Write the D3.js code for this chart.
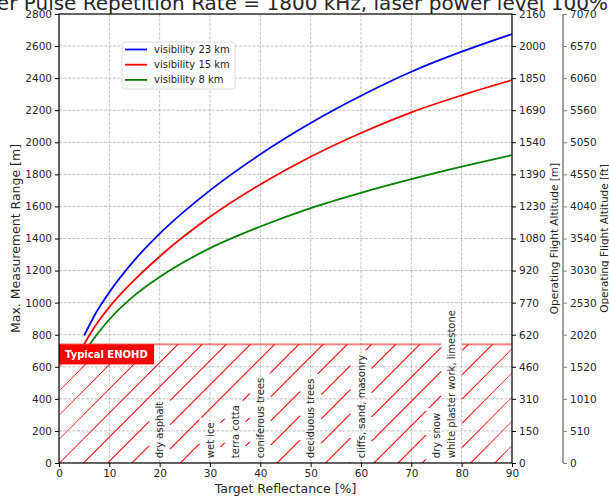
<!DOCTYPE html>
<html>
<head>
<meta charset="utf-8">
<script src="https://cdn.jsdelivr.net/npm/d3@7"></script>
<style>
  body { margin: 0; background: #fff; }
  svg text { font-family: "DejaVu Sans", sans-serif; }
</style>
</head>
<body>
<svg id="chart" width="609" height="500"></svg>
<script>
// Max. measurement range [m] versus target reflectance [%], per visibility
const reflectance = [5, 7.5, 10, 15, 20, 30, 40, 50, 60, 70, 80, 90];
const range23km = [795, 945, 1065, 1265, 1430, 1700, 1925, 2120, 2290, 2440, 2565, 2675];
const range15km = [742, 868, 972, 1142, 1288, 1535, 1737, 1910, 2058, 2187, 2293, 2388];
const range8km  = [690, 800, 895, 1045, 1160, 1340, 1475, 1590, 1685, 1770, 1848, 1920];
const seriesNames = ["visibility 23 km", "visibility 15 km", "visibility 8 km"];
const seriesColors = ["#0000ff", "#ff0000", "#008000"];

const xTicks = [0, 10, 20, 30, 40, 50, 60, 70, 80, 90];
const yTicks = [0, 200, 400, 600, 800, 1000, 1200, 1400, 1600, 1800, 2000, 2200, 2400, 2600, 2800];
const altitudeM = ["0", "150", "310", "460", "620", "770", "920", "1080", "1230", "1390", "1540", "1690", "1850", "2000", "2160"];
const altitudeFt = ["0", "510", "1010", "1520", "2020", "2530", "3030", "3540", "4040", "4550", "5050", "5560", "6060", "6570", "7070"];

// Typical surfaces and their reflectance
const surfaceLabels = ["dry asphalt", "wet ice", "terra cotta", "coniferous trees", "deciduous trees",
                       "cliffs, sand, masonry", "dry snow", "white plaster work, limestone"];
const surfaceReflectance = [20, 30, 35, 40, 50, 60, 75, 78];

// Eye hazard zone (ENOHD)
const enohdRange = 740;
const enohdBoxBottom = 615;
const enohdBoxRight = 18.9;
const enohdLabel = "Typical ENOHD";

const titleText = "Laser Pulse Repetition Rate = 1800 kHz, laser power level 100%";

const svg = d3.select("#chart");
const m = { left: 59, right: 512, top: 14, bottom: 463 };

const x = d3.scaleLinear().domain([0, 90]).range([m.left, m.right]);
const y = d3.scaleLinear().domain([0, 2800]).range([m.bottom, m.top]);
const yAlt = d3.scalePoint().domain(altitudeM).range([m.bottom, m.top]);
const yFt = d3.scalePoint().domain(altitudeFt).range([m.bottom, m.top]);

const textCol = "#262626";
const tickFont = "10.5px";

const defs = svg.append("defs");
defs.append("clipPath").attr("id", "plotClip")
  .append("rect").attr("x", m.left).attr("y", m.top)
  .attr("width", m.right - m.left).attr("height", m.bottom - m.top);
defs.append("clipPath").attr("id", "aboveZone")
  .append("rect").attr("x", m.left).attr("y", m.top)
  .attr("width", m.right - m.left).attr("height", y(enohdRange) - m.top);

// Grid
const grid = svg.append("g").attr("clip-path", "url(#plotClip)");
grid.selectAll("line.gx").data(xTicks).join("line").attr("class", "gx")
  .attr("x1", d => x(d)).attr("x2", d => x(d))
  .attr("y1", m.top).attr("y2", m.bottom)
  .attr("stroke", "#b0b0b0").attr("stroke-width", 0.8).attr("stroke-dasharray", "3,1.5");
grid.selectAll("line.gy").data(yTicks).join("line").attr("class", "gy")
  .attr("y1", d => y(d)).attr("y2", d => y(d))
  .attr("x1", m.left).attr("x2", m.right)
  .attr("stroke", "#b0b0b0").attr("stroke-width", 0.8).attr("stroke-dasharray", "3,1.5");

// Range curves (only drawn above the hazard zone)
const series = [range23km, range15km, range8km];
const line = d3.line().x(d => x(d[0])).y(d => y(d[1])).curve(d3.curveMonotoneX);
const curves = svg.append("g").attr("clip-path", "url(#aboveZone)");
series.forEach((vals, i) => {
  curves.append("path")
    .datum(reflectance.map((r, j) => [r, vals[j]]))
    .attr("d", line).attr("fill", "none")
    .attr("stroke", seriesColors[i]).attr("stroke-width", 1.8);
});

// Hatch layer sits under the labels
const hatchG = svg.append("g");

// Surface labels
const labelG = svg.append("g");
const labelBaseY = y(30);
const boxes = surfaceLabels.map((t, i) => {
  const cx = x(surfaceReflectance[i]);
  const tx = labelG.append("text")
    .attr("transform", `translate(${cx},${labelBaseY}) rotate(-90)`)
    .attr("dominant-baseline", "central")
    .attr("font-size", "10px").attr("fill", textCol)
    .text(t);
  const len = tx.node().getComputedTextLength();
  const pad = 4.5, half = 6;
  return { x1: cx - half - pad, x2: cx + half + pad, y1: labelBaseY - len - pad, y2: labelBaseY + pad };
});

// Remove blocked sub-intervals from [a, b]
function subtract(a, b, blocked) {
  let parts = [[a, b]];
  blocked.forEach(([c, d]) => {
    const next = [];
    parts.forEach(([p, q]) => {
      if (d <= p || c >= q) { next.push([p, q]); return; }
      if (c > p) next.push([p, c]);
      if (d < q) next.push([d, q]);
    });
    parts = next;
  });
  return parts.filter(([p, q]) => q - p > 0.3);
}

// Diagonal hatch across the hazard zone, broken around the labels.
// Each stroke is a thin filled parallelogram.
const yb = y(0), yt = y(enohdRange);
const xl = x(0), xr = x(90);
const spacing = 24.2, offset = 83.5;
const zoneH = yb - yt;
const segs = [];
d3.range(-8, 20).forEach(k => {
  const x0 = offset + k * spacing;            // where the stroke meets the zone floor
  const start = Math.max(x0, xl);
  const end = Math.min(x0 + zoneH, xr);
  if (end <= start) return;
  const blocked = boxes.map(bx => [
    Math.max(bx.x1, x0 + yb - bx.y2),
    Math.min(bx.x2, x0 + yb - bx.y1)
  ]).filter(([c, d]) => d > c);
  subtract(start, end, blocked).forEach(([p, q]) => segs.push({ x0, p, q }));
});
const hw = 0.75;
hatchG.selectAll("path.h").data(segs).join("path").attr("class", "h")
  .attr("d", s => {
    const y1 = yb - (s.p - s.x0), y2 = yb - (s.q - s.x0);
    const pa = Math.max(s.p - hw, xl), qb = Math.min(s.q + hw, xr);
    return `M${pa},${y1}L${s.p + hw},${y1}L${qb},${y2}L${s.q - hw},${y2}Z`;
  })
  .attr("fill", "#ff0000").attr("stroke", "none");

// Zone top edge, broken where a label reaches above it
const edgeParts = subtract(xl, xr, boxes.filter(bx => bx.y1 < yt && bx.y2 > yt).map(bx => [bx.x1, bx.x2]));
hatchG.selectAll("rect.edge").data(edgeParts).join("rect").attr("class", "edge")
  .attr("x", d => d[0]).attr("width", d => d[1] - d[0]).attr("y", yt - 1).attr("height", 2)
  .attr("fill", "#ff0000").attr("fill-opacity", 0.5);

// ENOHD tag
svg.append("rect")
  .attr("x", x(0)).attr("y", y(enohdRange))
  .attr("width", x(enohdBoxRight) - x(0)).attr("height", y(enohdBoxBottom) - y(enohdRange))
  .attr("fill", "#ff0000");
svg.append("text")
  .attr("x", x(0) + 6).attr("y", (y(enohdRange) + y(enohdBoxBottom)) / 2)
  .attr("dominant-baseline", "central")
  .attr("font-size", "10px").attr("font-weight", "bold").attr("fill", "#fff")
  .text(enohdLabel);

// Frame
svg.append("rect").attr("x", m.left).attr("y", m.top)
  .attr("width", m.right - m.left).attr("height", m.bottom - m.top)
  .attr("fill", "none").attr("stroke", "#000").attr("stroke-width", 1.2);

// Axes
const axisStyle = g => {
  g.select(".domain").remove();
  g.selectAll("text").attr("font-size", tickFont).attr("fill", textCol)
    .attr("font-family", "DejaVu Sans, sans-serif");
  g.selectAll("line").attr("stroke", "#000");
};
svg.append("g").attr("transform", `translate(0,${m.bottom})`)
  .call(d3.axisBottom(x).tickValues(xTicks).tickSize(4).tickPadding(3).tickFormat(d3.format("d")))
  .call(axisStyle);
svg.append("g").attr("transform", `translate(${m.left},0)`)
  .call(d3.axisLeft(y).tickValues(yTicks).tickSize(4).tickPadding(3).tickFormat(d3.format("d")))
  .call(axisStyle);
svg.append("g").attr("transform", `translate(${m.right},0)`)
  .call(d3.axisRight(yAlt).tickSize(4).tickPadding(3))
  .call(axisStyle);
const ftAxis = svg.append("g").attr("transform", "translate(563,0)")
  .call(d3.axisRight(yFt).tickSize(4).tickPadding(3));
ftAxis.select(".domain").remove();
ftAxis.selectAll("text").attr("font-size", tickFont).attr("fill", textCol);
ftAxis.selectAll("line").attr("stroke", "#808080");
ftAxis.append("line").attr("x1", 0).attr("x2", 0).attr("y1", m.top).attr("y2", m.bottom)
  .attr("stroke", "#808080").attr("stroke-width", 1.5);

// Axis titles
const midY = (m.top + m.bottom) / 2;
svg.append("text").attr("x", (m.left + m.right) / 2).attr("y", 493)
  .attr("text-anchor", "middle").attr("font-size", "12.5px").attr("fill", textCol)
  .text("Target Reflectance [%]");
svg.append("text").attr("transform", `translate(20,${midY}) rotate(-90)`)
  .attr("text-anchor", "middle").attr("font-size", "12.5px").attr("fill", textCol)
  .text("Max. Measurement Range [m]");
svg.append("text").attr("transform", `translate(557.5,${midY}) rotate(-90)`)
  .attr("text-anchor", "middle").attr("font-size", "10.5px").attr("fill", textCol)
  .text("Operating Flight Altitude [m]");
svg.append("text").attr("transform", `translate(607.5,${midY}) rotate(-90)`)
  .attr("text-anchor", "middle").attr("font-size", "10.5px").attr("fill", textCol)
  .text("Operating Flight Altitude [ft]");

// Title, centred over the plot
svg.append("text").attr("x", (m.left + m.right) / 2).attr("y", 10)
  .attr("text-anchor", "middle").attr("font-size", "20px").attr("fill", textCol)
  .text(titleText);

// Legend
const lg = svg.append("g").attr("transform", "translate(122,42)");
lg.append("rect").attr("width", 113).attr("height", 47).attr("rx", 2.5)
  .attr("fill", "#fff").attr("fill-opacity", 0.85).attr("stroke", "#d0d0d0").attr("stroke-width", 0.8);
seriesNames.forEach((name, i) => {
  const ry = 7.5 + i * 15.2;
  lg.append("line").attr("x1", 3).attr("x2", 25).attr("y1", ry).attr("y2", ry)
    .attr("stroke", seriesColors[i]).attr("stroke-width", 1.8);
  lg.append("text").attr("x", 32).attr("y", ry).attr("dominant-baseline", "central")
    .attr("font-size", "10px").attr("fill", textCol).text(name);
});
</script>
</body>
</html>
